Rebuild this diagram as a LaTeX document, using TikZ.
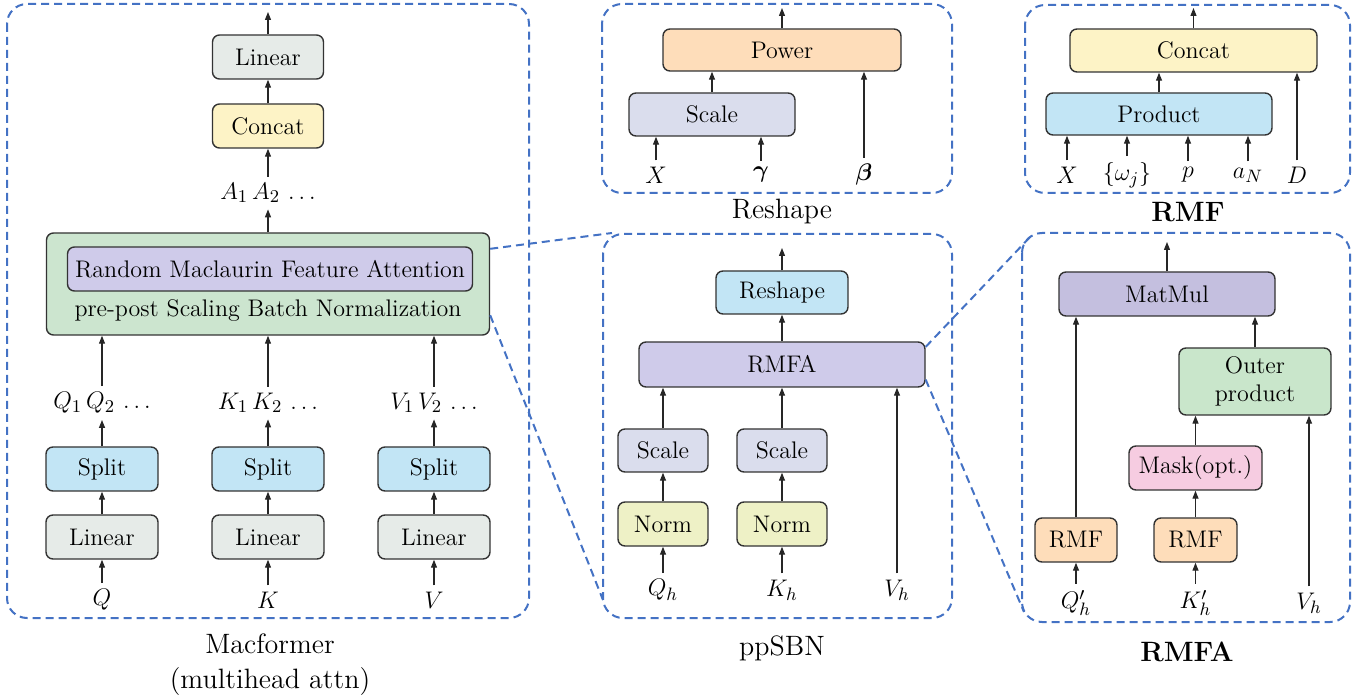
\documentclass[tikz,border=0pt]{standalone}
\usepackage{bm}
\usetikzlibrary{arrows.meta}

\definecolor{lingray}{HTML}{E6EBE8}
\definecolor{catyellow}{HTML}{FDF3C6}
\definecolor{ppgreen}{HTML}{CCE5CF}
\definecolor{rmfapurple}{HTML}{CFCBEA}
\definecolor{mmpurple}{HTML}{C4BFDF}
\definecolor{splitblue}{HTML}{C2E5F5}
\definecolor{powerorange}{HTML}{FEDDBA}
\definecolor{scalegray}{HTML}{DADDED}
\definecolor{normyellow}{HTML}{EEF1C6}
\definecolor{maskpink}{HTML}{F6CCE1}
\definecolor{outergreen}{HTML}{C9E6CB}
\definecolor{frameblue}{HTML}{4472C4}

\begin{document}
\begin{tikzpicture}[x=0.5pt, y=-0.5pt,
  blk/.style={draw=black!80, line width=0.7pt, rounded corners=3.5pt,
    minimum height=22pt, inner sep=1pt, font=\fontsize{12}{14}\selectfont},
  arr/.style={-{Triangle[length=4pt,width=3pt]}, line width=0.6pt, draw=black!85},
  inlab/.style={inner sep=3pt, font=\fontsize{12.5}{14}\selectfont},
  zoomframe/.style={draw=frameblue, line width=1pt,
    dash pattern=on 4pt off 2.5pt, rounded corners=10pt},
  zoomline/.style={draw=frameblue, line width=1pt, dash pattern=on 4pt off 2.5pt},
  caption/.style={font=\fontsize{14}{17.5}\selectfont}]

\useasboundingbox (0,0) rectangle (1367,700);

% Macformer (multihead attention)
\draw[zoomframe] (7,4) rectangle (529,618);
\node[blk, fill=lingray, minimum width=55.5pt] (linout) at (268,57) {Linear};
\node[blk, fill=catyellow, minimum width=55.5pt] (cat) at (268,126) {Concat};
\node[inlab] (alab) at (268,193) {$A_1\,A_2\,\ldots$};
\node[blk, fill=ppgreen, minimum width=221.5pt, minimum height=51pt] (ppsbnbox) at (268,284) {};
\node[blk, fill=rmfapurple, minimum width=202.5pt] (rmfabox) at (270,269) {Random Maclaurin Feature Attention};
\node[inlab, font=\fontsize{12}{14}\selectfont] (pptext) at (268,311) {pre-post Scaling Batch Normalization};
\coordinate (macout) at (268,12);
\draw[arr] (linout) -- (macout);
\draw[arr] (cat) -- (linout);
\draw[arr] (alab) -- (cat);
\draw[arr] (ppsbnbox) -- (alab);

\foreach \n/\x/\m in {q/102/Q, k/268/K, v/434/V} {
  \node[inlab] (in\n) at (\x,600) {$\m$};
  \node[blk, fill=lingray, minimum width=56pt] (lin\n) at (\x,537) {Linear};
  \node[blk, fill=splitblue, minimum width=56pt] (split\n) at (\x,469) {Split};
  \node[inlab] (heads\n) at (\x,403) {$\m_1\,\m_2\,\ldots$};
  \draw[arr] (in\n) -- (lin\n);
  \draw[arr] (lin\n) -- (split\n);
  \draw[arr] (split\n) -- (heads\n);
  \draw[arr] (heads\n) -- (heads\n |- ppsbnbox.south);
}
\node[caption, align=center] (capmac) at (270,665) {Macformer\\(multihead attn)};

% Reshape
\draw[zoomframe] (602,4) rectangle (952,193);
\node[blk, fill=powerorange, minimum width=119pt, minimum height=21pt] (power) at (782,50) {Power};
\node[blk, fill=scalegray, minimum width=83pt, minimum height=21.5pt] (rscale) at (712,114.5) {Scale};
\node[inlab] (rx) at (656,175) {$X$};
\node[inlab] (rgamma) at (761,175) {$\bm{\gamma}$};
\node[inlab] (rbeta) at (864,175) {$\bm{\beta}$};
\coordinate (rout) at (782,8);
\draw[arr] (power) -- (rout);
\draw[arr] (rscale) -- (rscale |- power.south);
\draw[arr] (rbeta) -- (rbeta |- power.south);
\draw[arr] (rx) -- (rx |- rscale.south);
\draw[arr] (rgamma) -- (rgamma |- rscale.south);
\node[caption] (capres) at (782,212) {Reshape};

% RMF
\draw[zoomframe] (1025,5) rectangle (1350,193);
\node[blk, fill=catyellow, minimum width=123.5pt, minimum height=21.5pt] (fcat) at (1193.5,50.5) {Concat};
\node[blk, fill=splitblue, minimum width=113pt, minimum height=21pt] (fprod) at (1159,114) {Product};
\node[inlab] (fx) at (1067,175) {$X$};
\node[inlab] (fomega) at (1127,175) {$\{\omega_j\}$};
\node[inlab] (fp) at (1188,175) {$p$};
\node[inlab] (fa) at (1248,175) {$a_N$};
\node[inlab] (fd) at (1297,175) {$D$};
\coordinate (fout) at (1193.5,8);
\draw[arr] (fcat) -- (fout);
\draw[arr] (fprod) -- (fprod |- fcat.south);
\draw[arr] (fd) -- (fd |- fcat.south);
\foreach \n in {fx, fomega, fp, fa}
  \draw[arr] (\n) -- (\n |- fprod.south);
\node[caption] (caprmf) at (1188,212) {\bfseries RMF};

% ppSBN
\draw[zoomframe] (603,234) rectangle (952,618);
\node[blk, fill=splitblue, minimum width=66pt, minimum height=21.5pt] (sreshape) at (782,292.5) {Reshape};
\node[blk, fill=rmfapurple, minimum width=143pt, minimum height=22.5pt] (srmfa) at (782,364.5) {RMFA};
\foreach \n/\x/\m in {q/663/Q, k/782/K} {
  \node[blk, fill=scalegray, minimum width=45pt, minimum height=21.5pt] (sscale\n) at (\x,450.5) {Scale};
  \node[blk, fill=normyellow, minimum width=45pt] (snorm\n) at (\x,524) {Norm};
  \node[inlab] (sin\n) at (\x,590) {$\m_h$};
  \draw[arr] (sin\n) -- (snorm\n);
  \draw[arr] (snorm\n) -- (sscale\n);
  \draw[arr] (sscale\n) -- (sscale\n |- srmfa.south);
}
\node[inlab] (sinv) at (897,590) {$V_h$};
\coordinate (sout) at (782,248);
\draw[arr] (sinv) -- (sinv |- srmfa.south);
\draw[arr] (srmfa) -- (sreshape);
\draw[arr] (sreshape) -- (sout);
\node[caption] (capsbn) at (782,648) {ppSBN};

% RMFA
\draw[zoomframe] (1022,233) rectangle (1350,622);
\node[blk, fill=mmpurple, minimum width=108pt] (matmul) at (1167,294) {MatMul};
\node[blk, fill=outergreen, minimum width=76pt, minimum height=33.5pt, align=center,
      font=\fontsize{12}{14}\selectfont] (outer) at (1255,381.5) {Outer\\product};
\node[blk, fill=maskpink, minimum width=66.5pt] (mask) at (1195.5,468) {Mask(opt.)};
\node[blk, fill=powerorange, minimum width=41pt] (rmfq) at (1076,540) {RMF};
\node[blk, fill=powerorange, minimum width=41.5pt] (rmfk) at (1195.5,540) {RMF};
\node[inlab] (aq) at (1076,603) {$Q'_h$};
\node[inlab] (ak) at (1195.5,603) {$K'_h$};
\node[inlab] (av) at (1309,603) {$V_h$};
\coordinate (aout) at (1167,242);
\draw[arr] (matmul) -- (aout);
\draw[arr] (aq) -- (rmfq);
\draw[arr] (ak) -- (rmfk);
\draw[arr] (rmfk) -- (mask);
\draw[arr] (mask) -- (mask |- outer.south);
\draw[arr] (av) -- (av |- outer.south);
\draw[arr] (outer) -- (outer |- matmul.south);
\draw[arr] (rmfq) -- (rmfq |- matmul.south);
\node[caption] (caprmfa) at (1187,652) {\bfseries RMFA};

% zoom-in lines
\coordinate (sbntl) at (612,233);
\coordinate (sbnbl) at (603,600);
\coordinate (rmfatl) at (1031,236);
\coordinate (rmfabl) at (1024,612);
\draw[zoomline] (ppsbnbox.9.5) -- (sbntl);
\draw[zoomline] (ppsbnbox.-8.5) -- (sbnbl);
\draw[zoomline] (srmfa.7) -- (rmfatl);
\draw[zoomline] (srmfa.-6) -- (rmfabl);

\end{tikzpicture}
\end{document}
